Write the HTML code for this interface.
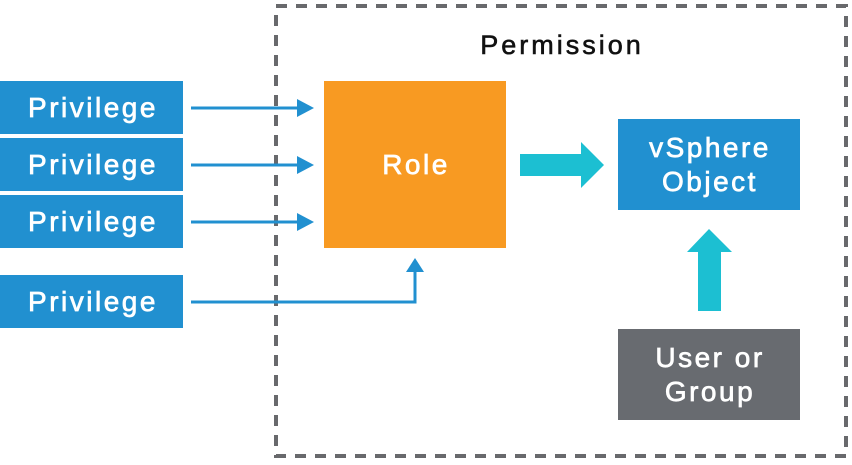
<!DOCTYPE html>
<html><head><style>
body{margin:0;width:852px;height:460px;background:#fff;overflow:hidden;font-family:"Liberation Sans",sans-serif;}
</style></head><body>
<svg width="852" height="460" xmlns="http://www.w3.org/2000/svg" font-family="Liberation Sans, sans-serif">
<rect x="276" y="6" width="570" height="450" fill="none" stroke="#68696c" stroke-width="4" stroke-dasharray="11,9"/>
<text x="562" y="54" font-size="27" letter-spacing="3" text-anchor="middle" fill="#111" stroke="#111" stroke-width="0.6">Permission</text>
<g fill="#2190d0">
<rect x="0" y="81" width="183" height="53"/>
<rect x="0" y="138" width="183" height="53"/>
<rect x="0" y="195" width="183" height="53"/>
<rect x="0" y="275" width="183" height="53"/>
</g>
<g fill="#fff" stroke="#fff" stroke-width="0.7" font-size="28" letter-spacing="2.5" text-anchor="middle">
<text x="93" y="117">Privilege</text>
<text x="93" y="174">Privilege</text>
<text x="93" y="231">Privilege</text>
<text x="93" y="311">Privilege</text>
</g>
<g stroke="#2190d0" stroke-width="3" fill="none">
<line x1="191" y1="108" x2="300" y2="108"/>
<line x1="191" y1="165" x2="300" y2="165"/>
<line x1="191" y1="222" x2="300" y2="222"/>
<polyline points="191,302 415,302 415,268"/>
</g>
<g fill="#2190d0">
<polygon points="297,99 314,108 297,117"/>
<polygon points="297,156 314,165 297,174"/>
<polygon points="297,213 314,222 297,231"/>
<polygon points="406,272 415,258 424,272"/>
</g>
<rect x="324" y="81" width="182" height="167" fill="#f89a22"/>
<polygon points="520,154 581,154 581,142 604,165 581,188 581,176 520,176" fill="#1cbfd2"/>
<rect x="618" y="119" width="182" height="91" fill="#2190d0"/>
<polygon points="698,311 698,252 687,252 709,229 732,252 721,252 721,311" fill="#1cbfd2"/>
<rect x="618" y="329" width="182" height="91" fill="#686b70"/>
<g fill="#fff" stroke="#fff" stroke-width="0.7" font-size="28" letter-spacing="2.5" text-anchor="middle">
<text x="416" y="174">Role</text>
<text x="710" y="157">vSphere</text>
<text x="710" y="191">Object</text>
<text x="710" y="367">User or</text>
<text x="710" y="401">Group</text>
</g>
</svg>
</body></html>
